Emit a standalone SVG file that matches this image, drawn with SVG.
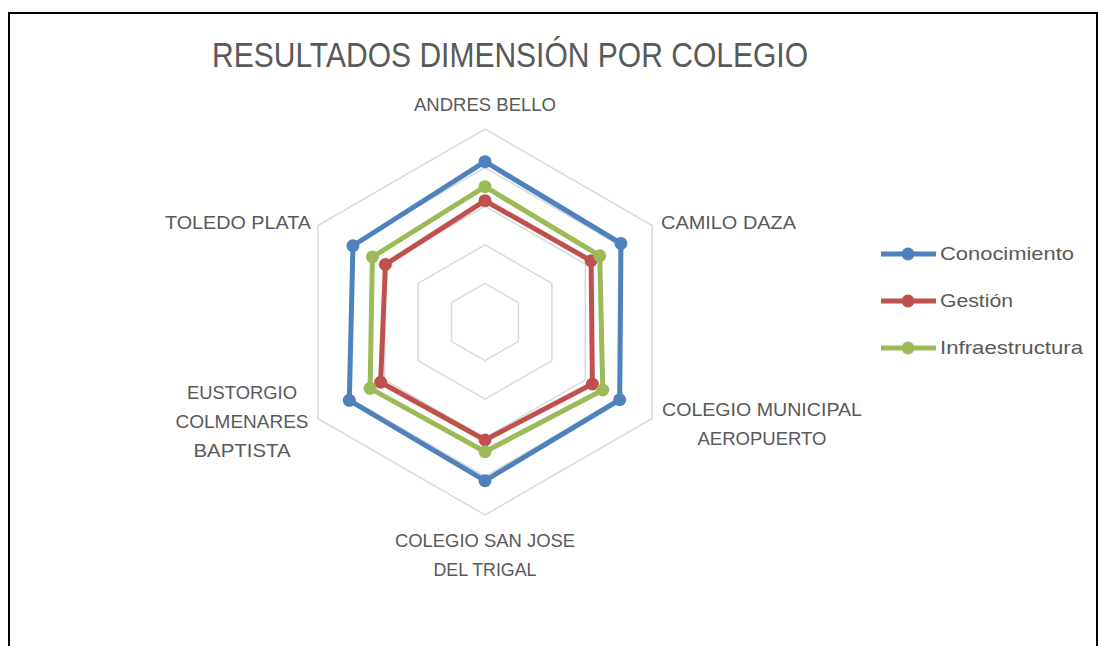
<svg xmlns="http://www.w3.org/2000/svg" width="1098" height="646" viewBox="0 0 1098 646">
<style>
.ring{fill:none;stroke:#d9d9d9;stroke-width:1.5}
.lbl{font-family:"Liberation Sans",Arial,sans-serif;font-size:19px;fill:#595959}
.title{font-family:"Liberation Sans",Arial,sans-serif;font-size:35px;fill:#595959}
.s{fill:none;stroke-width:5;stroke-linejoin:round}
.blue{stroke:#4f81bd}.red{stroke:#c0504d}.green{stroke:#9bbb59}
.mb{fill:#4f81bd}.mr{fill:#c0504d}.mg{fill:#9bbb59}
</style>
<rect width="1098" height="646" fill="#ffffff"/>
<path d="M9,646 V13 H1097 V646" fill="none" stroke="#000000" stroke-width="2"/>
<g id="title"><text class="title" x="510" y="67" text-anchor="middle" textLength="596" lengthAdjust="spacingAndGlyphs">RESULTADOS DIMENSIÓN POR COLEGIO</text></g>
<g id="grid">
<polygon class="ring" points="485,283.4 518.43,302.7 518.43,341.3 485,360.6 451.57,341.3 451.57,302.7"/>
<polygon class="ring" points="485,244.8 551.86,283.4 551.86,360.6 485,399.2 418.14,360.6 418.14,283.4"/>
<polygon class="ring" points="485,206.2 585.28,264.1 585.28,379.9 485,437.8 384.72,379.9 384.72,264.1"/>
<polygon class="ring" points="485,167.6 618.71,244.8 618.71,399.2 485,476.4 351.29,399.2 351.29,244.8"/>
<polygon class="ring" points="485,129 652.14,225.5 652.14,418.5 485,515 317.86,418.5 317.86,225.5"/>
</g>
<g id="axis-labels">
<text class="lbl" x="485" y="111" text-anchor="middle" textLength="142" lengthAdjust="spacingAndGlyphs">ANDRES BELLO</text>
<text class="lbl" x="661" y="229" textLength="135" lengthAdjust="spacingAndGlyphs">CAMILO DAZA</text>
<text class="lbl" x="762" y="416" text-anchor="middle" textLength="200" lengthAdjust="spacingAndGlyphs">COLEGIO MUNICIPAL</text>
<text class="lbl" x="762" y="445" text-anchor="middle" textLength="129" lengthAdjust="spacingAndGlyphs">AEROPUERTO</text>
<text class="lbl" x="485" y="547" text-anchor="middle" textLength="180" lengthAdjust="spacingAndGlyphs">COLEGIO SAN JOSE</text>
<text class="lbl" x="485" y="576" text-anchor="middle" textLength="103" lengthAdjust="spacingAndGlyphs">DEL TRIGAL</text>
<text class="lbl" x="242" y="399" text-anchor="middle" textLength="110" lengthAdjust="spacingAndGlyphs">EUSTORGIO</text>
<text class="lbl" x="242" y="428" text-anchor="middle" textLength="133" lengthAdjust="spacingAndGlyphs">COLMENARES</text>
<text class="lbl" x="242" y="457" text-anchor="middle" textLength="97" lengthAdjust="spacingAndGlyphs">BAPTISTA</text>
<text class="lbl" x="311" y="229" text-anchor="end" textLength="146" lengthAdjust="spacingAndGlyphs">TOLEDO PLATA</text>
</g>
<g id="series-conocimiento">
<polygon class="s blue" points="485,161.7 620.96,243.5 619.67,399.75 485,480.7 349.3,400.35 352.93,245.75"/>
<circle class="mb" cx="485" cy="161.7" r="6.5"/><circle class="mb" cx="620.96" cy="243.5" r="6.5"/><circle class="mb" cx="619.67" cy="399.75" r="6.5"/><circle class="mb" cx="485" cy="480.7" r="6.5"/><circle class="mb" cx="349.3" cy="400.35" r="6.5"/><circle class="mb" cx="352.93" cy="245.75" r="6.5"/>
</g>
<g id="series-gestion">
<polygon class="s red" points="485,200.7 591.09,260.75 592.39,384 485,440 380.64,382.25 385.41,264.5"/>
<circle class="mr" cx="485" cy="200.7" r="6.5"/><circle class="mr" cx="591.09" cy="260.75" r="6.5"/><circle class="mr" cx="592.39" cy="384" r="6.5"/><circle class="mr" cx="485" cy="440" r="6.5"/><circle class="mr" cx="380.64" cy="382.25" r="6.5"/><circle class="mr" cx="385.41" cy="264.5" r="6.5"/>
</g>
<g id="series-infraestructura">
<polygon class="s green" points="485,186.7 599.75,255.75 602.78,390 485,451.7 370.08,388.35 372.42,257"/>
<circle class="mg" cx="485" cy="186.7" r="6.5"/><circle class="mg" cx="599.75" cy="255.75" r="6.5"/><circle class="mg" cx="602.78" cy="390" r="6.5"/><circle class="mg" cx="485" cy="451.7" r="6.5"/><circle class="mg" cx="370.08" cy="388.35" r="6.5"/><circle class="mg" cx="372.42" cy="257" r="6.5"/>
</g>
<g id="legend">
<line class="s blue" x1="881" y1="254" x2="936" y2="254"/><circle class="mb" cx="908" cy="254" r="6.5"/>
<text class="lbl" x="940" y="260" textLength="134" lengthAdjust="spacingAndGlyphs">Conocimiento</text>
<line class="s red" x1="881" y1="301" x2="936" y2="301"/><circle class="mr" cx="908" cy="301" r="6.5"/>
<text class="lbl" x="940" y="307" textLength="73" lengthAdjust="spacingAndGlyphs">Gestión</text>
<line class="s green" x1="881" y1="348" x2="936" y2="348"/><circle class="mg" cx="908" cy="348" r="6.5"/>
<text class="lbl" x="940" y="354" textLength="143" lengthAdjust="spacingAndGlyphs">Infraestructura</text>
</g>
</svg>
